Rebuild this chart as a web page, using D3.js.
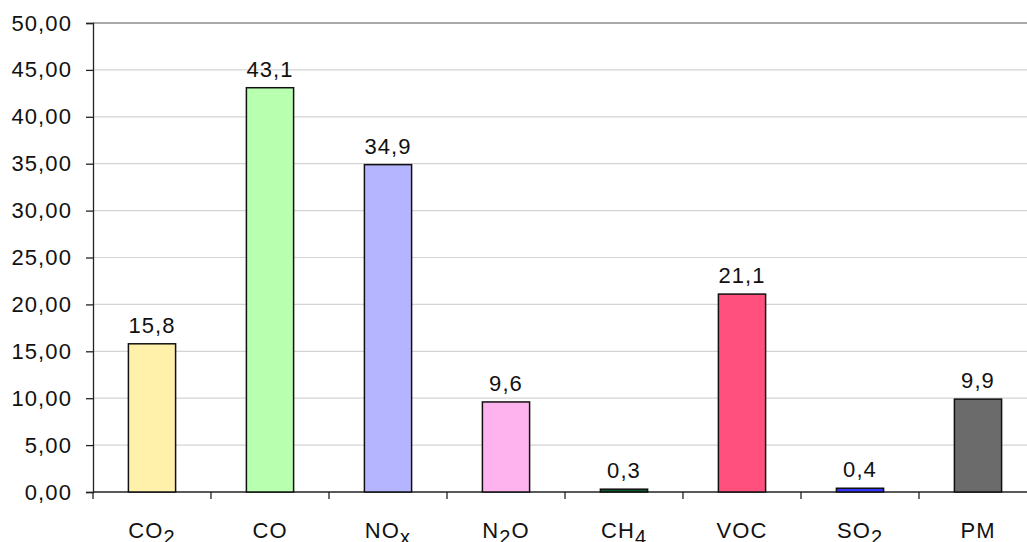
<!DOCTYPE html>
<html>
<head>
<meta charset="utf-8">
<script src="https://cdn.jsdelivr.net/npm/d3@7"></script>
<style>
  html, body { margin: 0; padding: 0; background: #fff; }
  svg { display: block; font-family: "Liberation Sans", Arial, sans-serif; }
</style>
</head>
<body>
<svg id="chart" width="1027" height="542"></svg>
<script>
// Emission categories: [main text, subscript, trailing text]
const categories = [["CO", "2"], ["CO", ""], ["NO", "x"], ["N", "2", "O"], ["CH", "4"], ["VOC", ""], ["SO", "2"], ["PM", ""]];
const values = [15.8, 43.1, 34.9, 9.6, 0.3, 21.1, 0.4, 9.9];
const valueLabels = ["15,8", "43,1", "34,9", "9,6", "0,3", "21,1", "0,4", "9,9"];
const barColors = ["#fff0aa", "#b8ffb0", "#b5b5ff", "#ffb3ee", "#0b5a2e", "#ff507e", "#3535ff", "#6b6b6b"];
const yTicks = [0, 5, 10, 15, 20, 25, 30, 35, 40, 45, 50];

const svg = d3.select("#chart");
const plotLeft = 93, plotTop = 23, plotBottom = 492, step = 118;
const plotRight = plotLeft + step * categories.length;
const fontSize = 22, letterSp = 1.1;

const x = d3.scaleBand()
  .domain(d3.range(categories.length))
  .range([plotLeft, plotRight])
  .paddingInner(0.6)
  .paddingOuter(0.3);

const y = d3.scaleLinear().domain([0, 50]).range([plotBottom, plotTop]);

// Horizontal gridlines
svg.append("g")
  .selectAll("line")
  .data(yTicks.filter(d => d > 0))
  .join("line")
  .attr("x1", plotLeft).attr("x2", plotRight)
  .attr("y1", d => y(d)).attr("y2", d => y(d))
  .attr("stroke", d => d === 50 ? "#8c8c8c" : "#d4d4d4")
  .attr("stroke-width", d => d === 50 ? 1.5 : 1.2);

// Y axis
const fmt = d => d.toFixed(2).replace(".", ",");
const yAxis = svg.append("g")
  .attr("transform", `translate(${plotLeft},0)`)
  .call(d3.axisLeft(y).tickValues(yTicks).tickFormat(fmt).tickSize(7).tickPadding(14));
yAxis.select(".domain").attr("stroke", "#222").attr("stroke-width", 1.3);
yAxis.selectAll(".tick line").attr("stroke", "#222").attr("stroke-width", 1.3);
yAxis.selectAll(".tick text")
  .attr("font-size", fontSize).attr("fill", "#111")
  .attr("letter-spacing", letterSp)
  .attr("font-family", "Liberation Sans, Arial, sans-serif");

// X axis baseline with ticks between categories
const xAxisG = svg.append("g");
xAxisG.append("line")
  .attr("x1", plotLeft).attr("x2", plotRight)
  .attr("y1", plotBottom).attr("y2", plotBottom)
  .attr("stroke", "#222").attr("stroke-width", 1.3);
xAxisG.selectAll("line.tk")
  .data(d3.range(categories.length + 1))
  .join("line")
  .attr("class", "tk")
  .attr("x1", i => plotLeft + i * step).attr("x2", i => plotLeft + i * step)
  .attr("y1", plotBottom).attr("y2", plotBottom + 7)
  .attr("stroke", "#222").attr("stroke-width", 1.3);

// Bars
svg.append("g")
  .selectAll("rect")
  .data(values)
  .join("rect")
  .attr("x", (d, i) => x(i))
  .attr("width", x.bandwidth())
  .attr("y", d => y(d))
  .attr("height", d => y(0) - y(d))
  .attr("fill", (d, i) => barColors[i])
  .attr("stroke", "#111")
  .attr("stroke-width", 1.5);

// Value labels
svg.append("g")
  .selectAll("text")
  .data(values)
  .join("text")
  .attr("x", (d, i) => x(i) + x.bandwidth() / 2)
  .attr("y", d => y(d) - 11)
  .attr("text-anchor", "middle")
  .attr("font-size", fontSize)
  .attr("letter-spacing", letterSp)
  .attr("fill", "#111")
  .text((d, i) => valueLabels[i]);

// Category labels with subscripts
const catText = svg.append("g")
  .selectAll("text")
  .data(categories)
  .join("text")
  .attr("x", (d, i) => x(i) + x.bandwidth() / 2)
  .attr("y", 538)
  .attr("text-anchor", "middle")
  .attr("font-size", fontSize)
  .attr("letter-spacing", letterSp)
  .attr("fill", "#111");
catText.each(function(d) {
  const t = d3.select(this);
  t.append("tspan").text(d[0]);
  if (d[1]) {
    t.append("tspan").attr("font-size", 20).attr("dy", 6).text(d[1]);
    if (d[2]) t.append("tspan").attr("dy", -6).text(d[2]);
  }
});
</script>
</body>
</html>
